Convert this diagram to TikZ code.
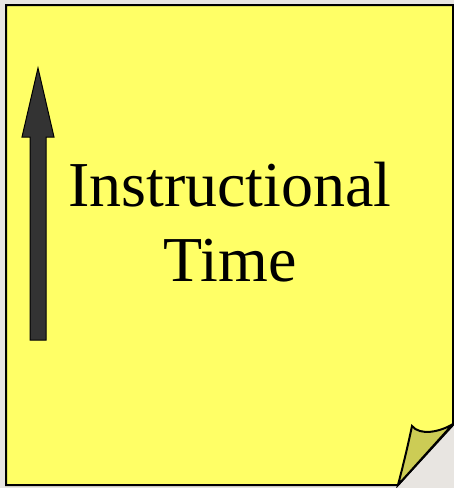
\documentclass[tikz,border=0pt]{standalone}
\usepackage{fontspec}
\setmainfont{Liberation Serif}
\definecolor{bgc}{HTML}{E8E5E1}
\definecolor{notey}{HTML}{FFFF66}
\definecolor{foldc}{HTML}{CCCC55}
\definecolor{arrowc}{HTML}{333333}
\begin{document}
\begin{tikzpicture}[x=1pt,y=-1pt,
  edge/.style={draw=black,line width=2pt,line join=miter},
  label/.style={font=\fontsize{64}{75}\selectfont,align=center,inner sep=0pt}]
\fill[bgc] (0,0) rectangle (454,488);
\useasboundingbox (0,0) rectangle (454,488);
% note
\path[edge,fill=notey] (6,5) -- (453,5) -- (453,425) -- (398,485) -- (6,485) -- cycle;
% curl
\path[edge,fill=foldc] (398,485) .. controls (404,462) and (408,445) .. (412,426)
  .. controls (420,436) and (440,432) .. (453,424) -- cycle;
% arrow
\path[draw=black,line width=1pt,fill=arrowc] (30,340) -- (30,137) -- (22,137) -- (38,68)
  -- (54,137) -- (46,137) -- (46,340) -- cycle;
% text
\node[label] (txt) at (230,222) {Instructional\\Time};
\end{tikzpicture}
\end{document}
